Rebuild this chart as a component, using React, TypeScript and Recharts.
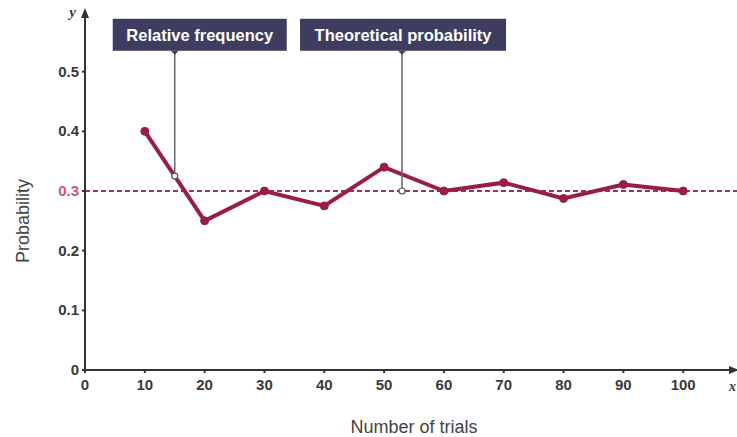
import React from 'react';
import { ComposedChart, Line, XAxis, YAxis, ReferenceLine, ReferenceDot } from 'recharts';

const trials = [10, 20, 30, 40, 50, 60, 70, 80, 90, 100];
const relativeFrequency = [0.4, 0.25, 0.3, 0.275, 0.34, 0.3, 0.314, 0.2875, 0.311, 0.3];
const theoreticalProbability = 0.3;
const xTicks = [0, 10, 20, 30, 40, 50, 60, 70, 80, 90, 100];
const yTicks = [0, 0.1, 0.2, 0.3, 0.4, 0.5];
const xMax = 109;
const yMax = 0.6;
const relPointer = { x: 15, y: 0.325, top: 0.53, label: 'Relative frequency' };
const theoPointer = { x: 53, y: 0.3, top: 0.53, label: 'Theoretical probability' };

const data = trials.map((t, i) => ({ trials: t, freq: relativeFrequency[i] }));

const LINE = '#9b1c4b';
const DASH = '#b3285c';
const AXIS = '#333333';
const BOX = '#3e3d5f';
const FONT = 'Liberation Sans, Arial, sans-serif';

const YTick = (props: any) => {
  const { x, y, payload } = props;
  const v = payload.value;
  const pink = Math.abs(v - theoreticalProbability) < 1e-9;
  return (
    <text x={x - 1} y={y + 5} textAnchor="end" fontFamily={FONT} fontSize={15} fontWeight="bold" fill={pink ? '#d4517e' : '#3a3a3a'}>
      {v === 0 ? '0' : String(v)}
    </text>
  );
};

const XTick = (props: any) => {
  const { x, y, payload } = props;
  return (
    <text x={x} y={y + 15} textAnchor="middle" fontFamily={FONT} fontSize={15} fontWeight="bold" fill="#3a3a3a">
      {payload.value}
    </text>
  );
};

const makeBox = (label: string, left: number, width: number) => (props: any) => {
  const { cx, cy } = props;
  if (cx == null || cy == null) return <g />;
  const h = 32;
  const bottom = cy - 3;
  return (
    <g>
      <rect x={cx - left} y={bottom - h} width={width} height={h} fill={BOX} />
      <path d={`M ${cx - 4} ${bottom} L ${cx + 4} ${bottom} L ${cx} ${bottom + 4} Z`} fill={BOX} />
      <text x={cx - left + width / 2} y={bottom - h / 2 + 6} textAnchor="middle" fontFamily={FONT} fontSize={16.5} fontWeight="bold" fill="#ffffff">
        {label}
      </text>
    </g>
  );
};

const upArrow = (props: any) => {
  const { cx, cy } = props;
  if (cx == null) return <g />;
  return (
    <g>
      <path d={`M ${cx} ${cy - 4} L ${cx - 4} ${cy + 6} L ${cx + 4} ${cy + 6} Z`} fill={AXIS} />
      <text x={cx - 9} y={cy + 5} textAnchor="end" fontFamily="Liberation Serif, serif" fontStyle="italic" fontSize={15} fontWeight="bold" fill="#3a3a3a">y</text>
    </g>
  );
};

const rightArrow = (props: any) => {
  const { cx, cy } = props;
  if (cx == null) return <g />;
  return (
    <g>
      <path d={`M ${cx + 2} ${cy} L ${cx - 8} ${cy - 4} L ${cx - 8} ${cy + 4} Z`} fill={AXIS} />
      <text x={cx - 8} y={cy + 21} textAnchor="start" fontFamily="Liberation Serif, serif" fontStyle="italic" fontSize={14} fontWeight="bold" fill="#3a3a3a">x</text>
    </g>
  );
};

export default function App() {
  return (
    <div style={{ position: 'absolute', left: 0, top: 0, background: '#ffffff' }}>
      <ComposedChart width={737} height={437} data={data} margin={{ top: 12, right: 0, left: 20, bottom: 37 }}>
        <XAxis
          type="number"
          dataKey="trials"
          domain={[0, xMax]}
          ticks={xTicks}
          allowDataOverflow
          height={30}
          stroke={AXIS}
          strokeWidth={2}
          tickSize={3}
          tick={<XTick />}
          label={{ value: 'Number of trials', position: 'insideBottom', dx: 3, dy: 38, fill: '#444', fontSize: 18, fontFamily: FONT } as any}
        />
        <YAxis
          type="number"
          domain={[0, yMax]}
          ticks={yTicks}
          allowDataOverflow
          width={65}
          stroke={AXIS}
          strokeWidth={2}
          tickSize={3}
          tick={<YTick />}
          label={{ value: 'Probability', angle: -90, position: 'insideLeft', dx: -2, dy: 72, fill: '#444', fontSize: 18, fontFamily: FONT } as any}
        />
        <ReferenceLine y={theoreticalProbability} stroke={DASH} strokeWidth={2} strokeDasharray="5 3" />
        <Line
          type="linear"
          dataKey="freq"
          stroke={LINE}
          strokeWidth={4}
          dot={{ r: 4, fill: LINE, stroke: LINE, strokeWidth: 1 }}
          isAnimationActive={false}
        />
        <ReferenceLine segment={[{ x: relPointer.x, y: relPointer.y }, { x: relPointer.x, y: relPointer.top }]} stroke="#666" strokeWidth={1.5} />
        <ReferenceLine segment={[{ x: theoPointer.x, y: theoPointer.y }, { x: theoPointer.x, y: theoPointer.top }]} stroke="#666" strokeWidth={1.5} />
        <ReferenceDot x={relPointer.x} y={relPointer.y} r={3} fill="#ffffff" stroke="#555" strokeWidth={1.2} />
        <ReferenceDot x={theoPointer.x} y={theoPointer.y} r={3} fill="#ffffff" stroke="#555" strokeWidth={1.2} />
        <ReferenceDot x={relPointer.x} y={relPointer.top} ifOverflow="visible" shape={makeBox(relPointer.label, 62, 174)} />
        <ReferenceDot x={theoPointer.x} y={theoPointer.top} ifOverflow="visible" shape={makeBox(theoPointer.label, 102, 206)} />
        <ReferenceDot x={0} y={yMax} ifOverflow="visible" shape={upArrow} />
        <ReferenceDot x={xMax} y={0} ifOverflow="visible" shape={rightArrow} />
      </ComposedChart>
    </div>
  );
}
